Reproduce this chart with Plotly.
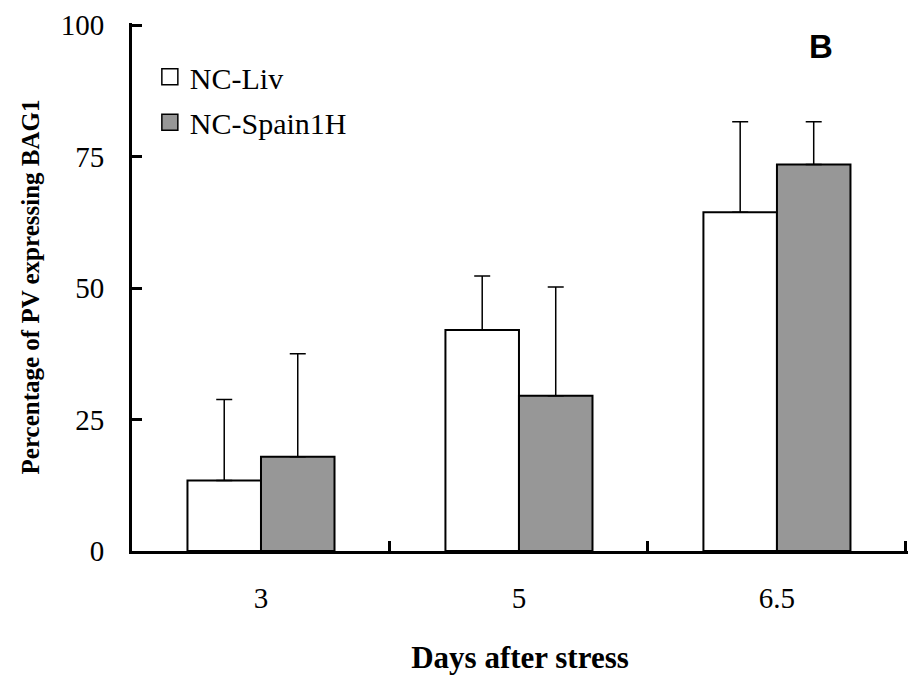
import plotly.graph_objects as go

categories = ["3", "5", "6.5"]
nc_liv = [13.4, 42.0, 64.4]
nc_liv_err = [15.4, 10.3, 17.2]
nc_spain = [17.9, 29.5, 73.5]
nc_spain_err = [19.6, 20.7, 8.1]
series_names = ["NC-Liv", "NC-Spain1H"]
series_colors = ["white", "#979797"]

serif = "Liberation Serif, Times New Roman, serif"

fig = go.Figure()
for vals, errs, name, col in [(nc_liv, nc_liv_err, series_names[0], series_colors[0]),
                              (nc_spain, nc_spain_err, series_names[1], series_colors[1])]:
    fig.add_trace(go.Bar(
        x=categories, y=vals, name=name, showlegend=False,
        marker=dict(color=col, line=dict(color="black", width=2)),
        error_y=dict(type="data", array=errs, symmetric=False, arrayminus=[0] * len(errs),
                     color="black", thickness=1.5, width=8),
    ))
# legend entries with larger square swatches, one legend box per entry
for i, (name, col) in enumerate(zip(series_names, series_colors)):
    fig.add_trace(go.Scatter(
        x=[None], y=[None], mode="markers", name=name,
        legend="legend" if i == 0 else "legend2",
        marker=dict(symbol="square", size=16, color=col, line=dict(color="black", width=1.5)),
    ))

leg_common = dict(xanchor="left", yanchor="middle", font=dict(family=serif, size=30),
                  bgcolor="rgba(0,0,0,0)", itemsizing="trace")

fig.update_layout(
    width=911, height=681,
    margin=dict(l=132, r=3, t=23, b=130),
    paper_bgcolor="white", plot_bgcolor="white",
    barmode="group", bargap=0.43, bargroupgap=0,
    font=dict(family=serif, size=29, color="black"),
    showlegend=True,
    legend=dict(x=0.023, y=0.898, **leg_common),
    legend2=dict(x=0.023, y=0.812, **leg_common),
    annotations=[dict(text="<b>B</b>", x=0.888, y=0.955, xref="paper", yref="paper",
                      xanchor="center", yanchor="middle",
                      showarrow=False, font=dict(family="Liberation Sans, Arial, sans-serif", size=33))],
)
fig.update_xaxes(
    type="category", range=[-0.5, 2.508],
    showline=True, linecolor="black", linewidth=3,
    ticks="inside", tickson="boundaries", ticklen=10, tickwidth=3, tickcolor="black",
    ticklabelstandoff=19, tickfont=dict(size=29, family=serif),
    title=dict(text="<b>Days after stress</b>", font=dict(size=31, family=serif), standoff=34),
    showgrid=False, zeroline=False,
)
fig.update_yaxes(
    range=[0, 100.4], tickvals=[0, 25, 50, 75, 100],
    showline=True, linecolor="black", linewidth=3,
    ticks="inside", ticklen=10, tickwidth=3, tickcolor="black",
    ticklabelstandoff=19, tickfont=dict(size=29, family=serif),
    title=dict(text="<b>Percentage of PV expressing BAG1</b>", font=dict(size=25, family=serif), standoff=14),
    showgrid=False, zeroline=False,
)

fig.write_html("out.html", config={"displayModeBar": False},
               post_script="document.body.style.margin='0';")
